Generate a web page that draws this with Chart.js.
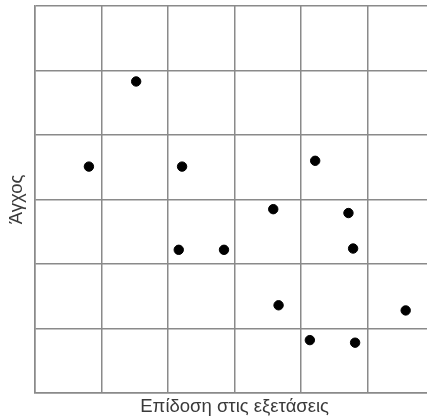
<!DOCTYPE html>
<html>
<head>
<meta charset="utf-8">
<script src="https://cdn.jsdelivr.net/npm/chart.js@4"></script>
<style>
    html, body { margin: 0; padding: 0; overflow: hidden; background: #fff; }
</style>
</head>
<body>
<canvas id="scatterChart" width="440" height="418"></canvas>
<script>
// Values (grid units, 0-6 on both axes)
const performance = [0.81, 1.52, 2.21, 4.21, 3.58, 4.71, 2.16, 2.84, 4.78, 3.66, 5.57, 4.13, 4.81];
const stress      = [3.51, 4.83, 3.51, 3.60, 2.85, 2.79, 2.22, 2.22, 2.24, 1.36, 1.28, 0.82, 0.78];

const xTitle = 'Επίδοση στις εξετάσεις';
const yTitle = 'Άγχος';

const gridColor = '#8a8a8a';

const points = performance.map((x, i) => ({ x: x, y: stress[i] }));

new Chart(document.getElementById('scatterChart'), {
    type: 'scatter',
    data: {
        datasets: [{
            data: points,
            backgroundColor: '#000',
            borderColor: '#000',
            pointRadius: 4.7,
            pointHoverRadius: 4.7
        }]
    },
    options: {
        responsive: false,
        animation: false,
        layout: { padding: { top: 6, right: 3, left: 0, bottom: 0 } },
        plugins: { legend: { display: false }, tooltip: { enabled: false } },
        scales: {
            x: {
                type: 'linear',
                min: 0,
                max: 6,
                ticks: { display: false, stepSize: 1 },
                grid: { color: gridColor, lineWidth: 1.5, drawTicks: false },
                border: { color: gridColor, width: 1.5 },
                title: {
                    display: true,
                    text: xTitle,
                    color: '#3a3a3a',
                    font: { family: 'Liberation Sans, Arial, sans-serif', size: 18.5 },
                    padding: { top: 0, bottom: 0 }
                },
                afterFit: axis => { axis.height = 25; }
            },
            y: {
                type: 'linear',
                min: 0,
                max: 6,
                ticks: { display: false, stepSize: 1 },
                grid: { color: gridColor, lineWidth: 1.5, drawTicks: false },
                border: { color: gridColor, width: 1.5 },
                title: {
                    display: true,
                    text: yTitle,
                    color: '#3a3a3a',
                    font: { family: 'Liberation Sans, Arial, sans-serif', size: 18.5 },
                    padding: { top: 6, bottom: 0 }
                },
                afterFit: axis => { axis.width = 35; }
            }
        }
    }
});
</script>
</body>
</html>
